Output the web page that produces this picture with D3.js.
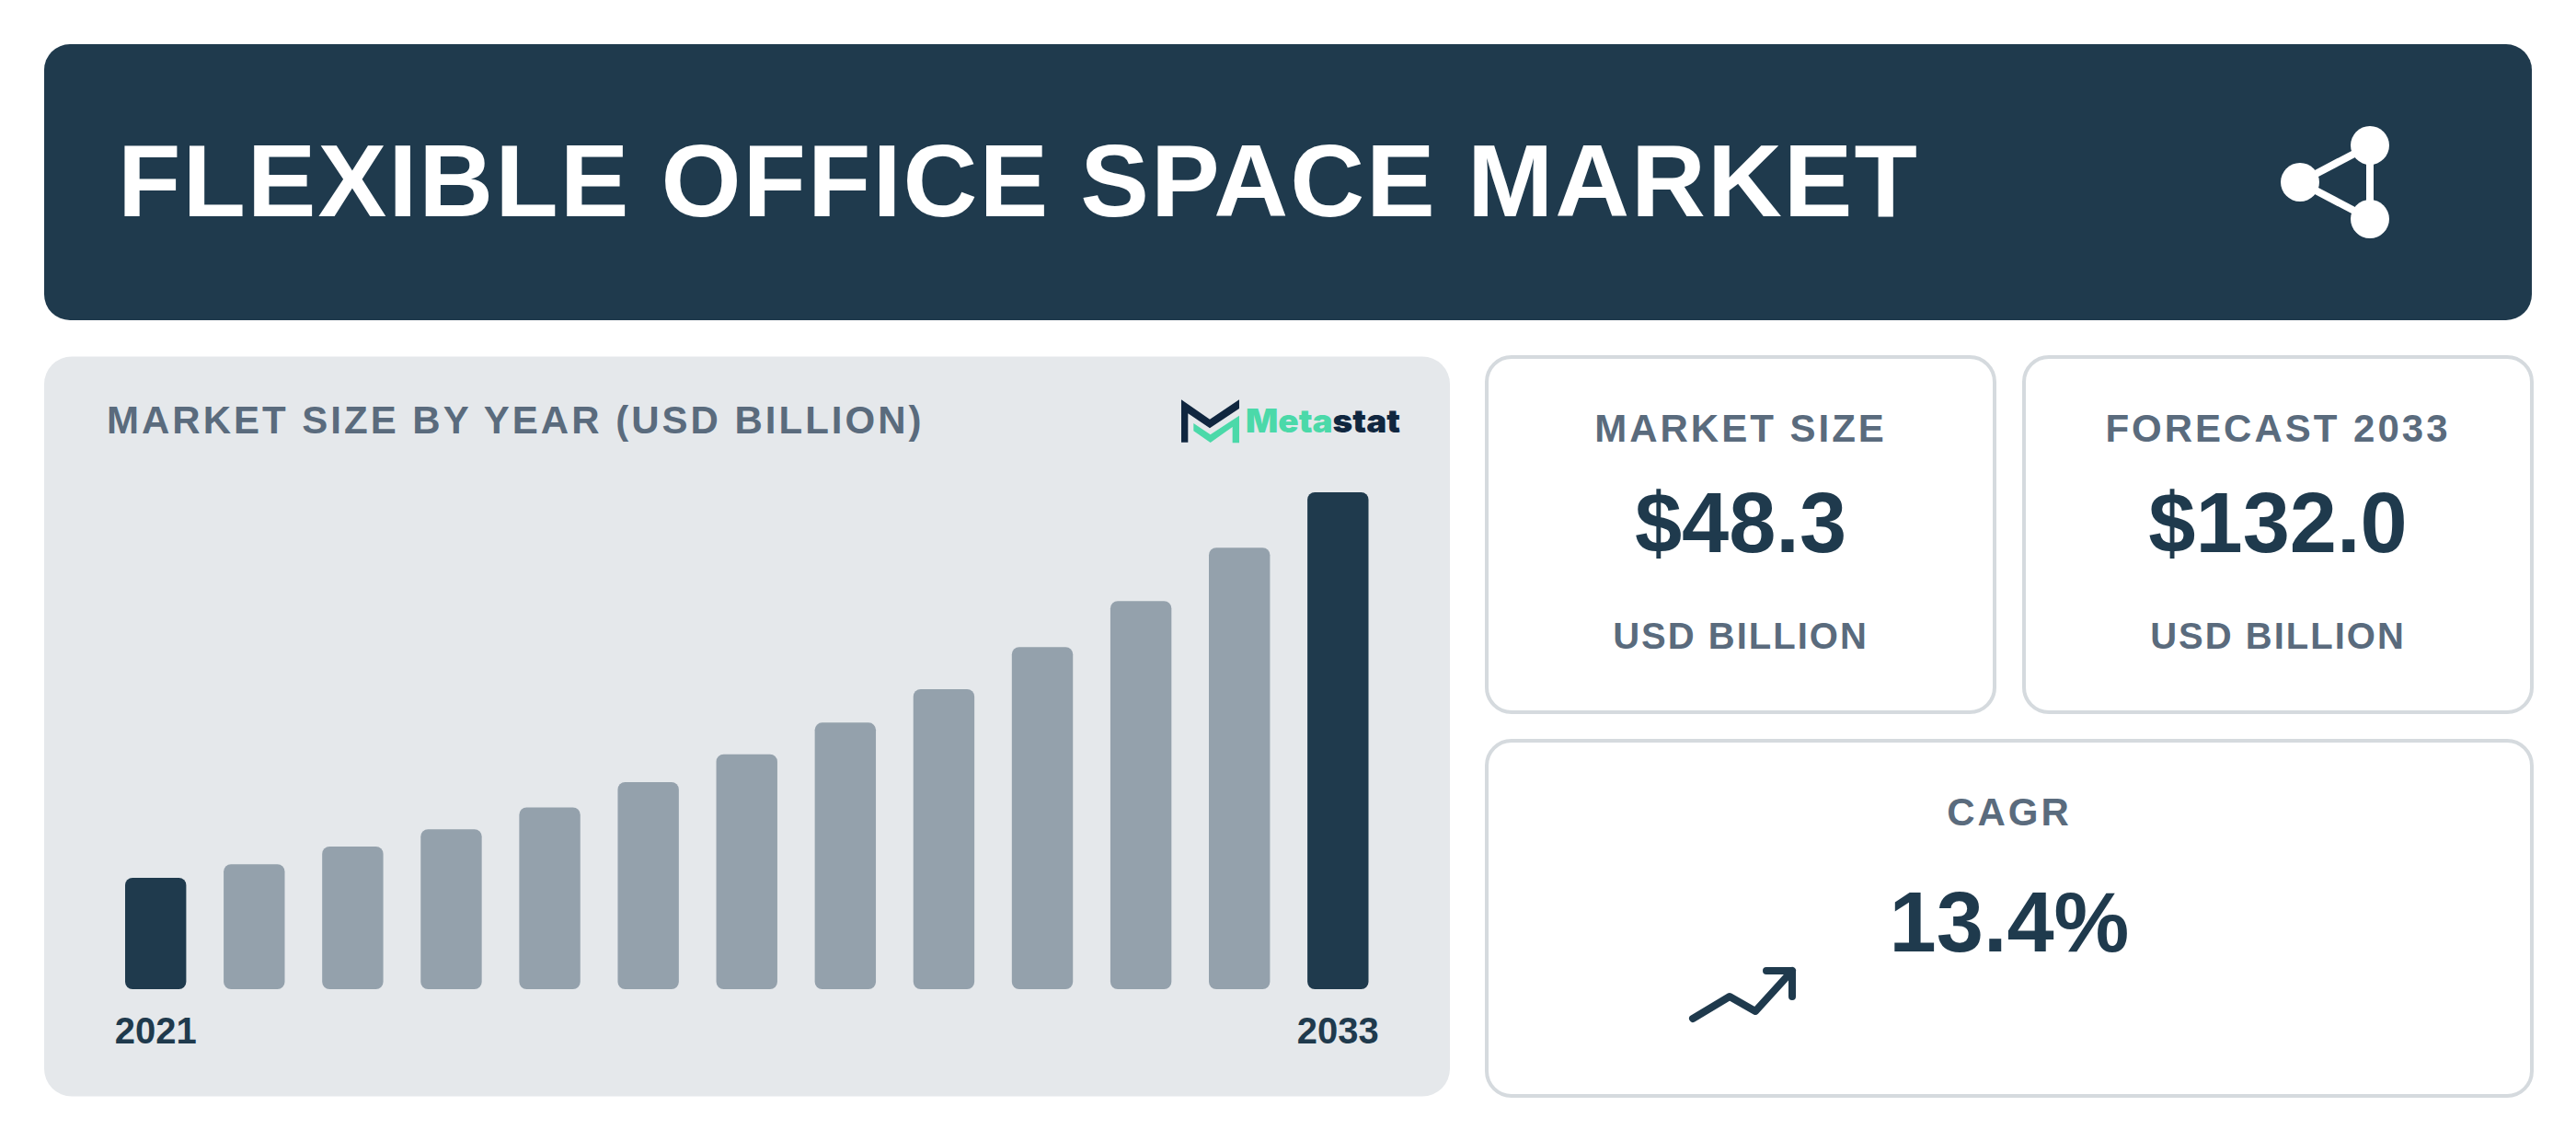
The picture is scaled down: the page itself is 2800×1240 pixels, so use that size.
<!DOCTYPE html>
<html>
<head>
<meta charset="utf-8">
<script src="https://cdn.jsdelivr.net/npm/d3@7"></script>
<style>
  html, body { margin: 0; padding: 0; background: #fff; }
  svg { display: block; }
  text { font-family: "Liberation Sans", Arial, sans-serif; font-weight: 700; }
</style>
</head>
<body>
<svg id="chart" width="2800" height="1240"></svg>
<script>
const years = [2021, 2022, 2023, 2024, 2025, 2026, 2027, 2028, 2029, 2030, 2031, 2032, 2033]
const marketSize = [29.6, 33.2, 37.9, 42.5, 48.3, 55.0, 62.4, 70.8, 79.7, 90.9, 103.1, 117.3, 132.0]
const yearTicks = [2021, 2033]
const highlightYears = [2021, 2033]

const title = "FLEXIBLE OFFICE SPACE MARKET"
const chartTitle = "MARKET SIZE BY YEAR (USD BILLION)"

const dark = "#1f3a4d"
const grey = "#94a1ac"
const slate = "#5a6b7d"
const panel = "#e5e8eb"
const border = "#d5dade"

const svg = d3.select("#chart")

// header band
svg.append("rect")
  .attr("x", 48).attr("y", 48)
  .attr("width", 2704).attr("height", 300)
  .attr("rx", 28)
  .attr("fill", dark)

svg.append("text")
  .attr("x", 128).attr("y", 235)
  .attr("font-size", 112)
  .attr("letter-spacing", 2)
  .attr("fill", "#fff")
  .text(title)

// share icon
const shareNodes = [[2500, 198], [2576, 158], [2576, 238]]
const share = svg.append("g")
share.selectAll("line")
  .data([[0, 1], [0, 2], [1, 2]])
  .join("line")
  .attr("x1", d => shareNodes[d[0]][0])
  .attr("y1", d => shareNodes[d[0]][1])
  .attr("x2", d => shareNodes[d[1]][0])
  .attr("y2", d => shareNodes[d[1]][1])
  .attr("stroke", "#fff")
  .attr("stroke-width", 8)
share.selectAll("circle")
  .data(shareNodes)
  .join("circle")
  .attr("cx", d => d[0])
  .attr("cy", d => d[1])
  .attr("r", 21)
  .attr("fill", "#fff")

// chart panel
svg.append("rect")
  .attr("x", 48).attr("y", 387.5)
  .attr("width", 1528).attr("height", 804)
  .attr("rx", 30)
  .attr("fill", panel)

svg.append("text")
  .attr("x", 116).attr("y", 471)
  .attr("font-size", 42)
  .attr("letter-spacing", 3)
  .attr("fill", slate)
  .text(chartTitle)

// logo
const logo = svg.append("g").attr("transform", "translate(1200,380) scale(0.3333)")
logo.append("path")
  .attr("d", "M252,163 L345,227 L441,163 L441,192 L345,256 L274,208 L274,302 L252,302 Z")
  .attr("fill", "#10263f")
logo.append("path")
  .attr("d", "M292,240 L347,277 L441,215 L441,304 L419,304 L419,252 L347,303 L292,265 Z")
  .attr("fill", "#4bd9a9")
const logoText = svg.append("text")
  .attr("x", 1354).attr("y", 470)
  .attr("font-size", 35)
  .attr("textLength", 168)
  .attr("lengthAdjust", "spacingAndGlyphs")
  .style("font-family", "Inter, sans-serif")
  .style("font-weight", 900)
logoText.append("tspan").attr("fill", "#4bd9a9").text("Meta")
logoText.append("tspan").attr("fill", "#10263f").text("stat")

// bars
const x = d3.scaleBand()
  .domain(years)
  .range([136, 1487.5])
  .paddingInner(0.38)
  .paddingOuter(0)

const y = d3.scaleLinear()
  .domain([0, d3.max(marketSize)])
  .range([1075, 535])

svg.append("g")
  .selectAll("rect")
  .data(years)
  .join("rect")
  .attr("x", d => x(d))
  .attr("y", (d, i) => y(marketSize[i]))
  .attr("width", x.bandwidth())
  .attr("height", (d, i) => y(0) - y(marketSize[i]))
  .attr("rx", 8)
  .attr("fill", d => highlightYears.includes(d) ? dark : grey)

const axis = svg.append("g")
  .attr("transform", "translate(0,1076)")
  .call(d3.axisBottom(x).tickValues(yearTicks).tickSize(0).tickPadding(30).tickFormat(d3.format("d")))
axis.select(".domain").remove()
axis.selectAll("text")
  .attr("font-size", 40)
  .attr("fill", dark)
  .style("font-family", "'Liberation Sans', Arial, sans-serif")

// stat cards
const cardLabels = ["MARKET SIZE", "FORECAST 2033"]
const cardValues = ["$48.3", "$132.0"]
const cardCentres = [1892, 2476]
const cardUnit = "USD BILLION"

function card(x0, y0, w, h) {
  svg.append("rect")
    .attr("x", x0 + 2).attr("y", y0 + 2)
    .attr("width", w - 4).attr("height", h - 4)
    .attr("rx", 27)
    .attr("fill", "#fff")
    .attr("stroke", border)
    .attr("stroke-width", 4)
}

function label(cx, yy, str, size, spacing, fill) {
  svg.append("text")
    .attr("x", cx).attr("y", yy)
    .attr("text-anchor", "middle")
    .attr("font-size", size)
    .attr("letter-spacing", spacing)
    .attr("fill", fill)
    .text(str)
}

card(1614, 386, 556, 390)
card(2198, 386, 556, 390)
card(1614, 803, 1140, 390)

cardLabels.forEach((d, i) => {
  label(cardCentres[i], 480, d, 42, 3, slate)
  label(cardCentres[i], 600, cardValues[i], 92, 0, dark)
  label(cardCentres[i], 705, cardUnit, 40, 2, slate)
})

label(2184, 897, "CAGR", 42, 3, slate)
label(2184, 1034, "13.4%", 92, 0, dark)

// trend arrow
const arrowLine = d3.line()
svg.append("path")
  .attr("d", arrowLine([[1840, 1107], [1880, 1083], [1908, 1099], [1948, 1055]]) + arrowLine([[1920, 1055], [1948, 1055], [1948, 1083]]))
  .attr("fill", "none")
  .attr("stroke", dark)
  .attr("stroke-width", 8)
  .attr("stroke-linecap", "round")
  .attr("stroke-linejoin", "round")
</script>
</body>
</html>
